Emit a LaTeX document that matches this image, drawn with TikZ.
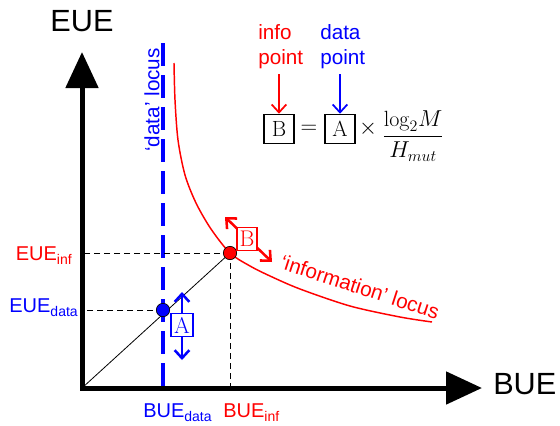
\documentclass[tikz,border=0pt]{standalone}
\usepackage{amsmath}
\usepackage{fontspec}
\setsansfont{Liberation Sans}
\usetikzlibrary{positioning, arrows.meta, calc}

% small lowered index for the sans labels
\newcommand{\lowidx}[1]{\raisebox{-3.5pt}{\fontsize{10.5}{12}\selectfont #1}}

\begin{document}
\begin{tikzpicture}[x=0.75pt, y=-0.75pt,
    lbl/.style={font=\sffamily\fontsize{15.5}{19}\selectfont, inner sep=0pt},
    axlbl/.style={font=\sffamily\fontsize{23}{27}\selectfont, inner sep=0pt},
    ticklbl/.style={font=\sffamily\fontsize{15}{18}\selectfont, inner sep=0pt},
    letterbox/.style={fill=white, inner sep=0pt, line width=0.8pt, font=\fontsize{17}{17}\selectfont, minimum width=16.5pt, minimum height=17pt},
    eqbox/.style={draw=black, line width=0.9pt, inner sep=0pt, font=\fontsize{16.5}{17}\selectfont, minimum width=22.5pt, minimum height=22pt},
    eqtxt/.style={font=\fontsize{16.5}{17}\selectfont, inner sep=0pt},
    dot/.style={circle, draw=black, line width=0.5pt, inner sep=0pt, minimum size=10pt},
    guide/.style={black, dash pattern=on 4.5pt off 3pt, line width=0.6pt},
    chev/.style={{Straight Barb[length=6pt, width=11pt]}-{Straight Barb[length=6pt, width=11pt]}},
    pointer/.style={-{Straight Barb[length=6pt, width=11pt]}, line width=1.3pt}
  ]
  \useasboundingbox (0,0) rectangle (560,425);

  % axes
  \coordinate (O) at (82,388);
  \coordinate (ytip) at (82,52);
  \coordinate (xtip) at (482,388);
  \draw[line width=3.75pt, {Triangle[length=27pt, width=24pt]}-{Triangle[length=27pt, width=24pt]}] (ytip) -- (O) -- (xtip);
  \node[axlbl] (eue) at (82,21) {EUE};
  \node[axlbl, anchor=west] (bue) at (493,384) {BUE};

  % data locus
  \coordinate (dtop) at (163,43);
  \draw[blue, line width=2.3pt, dash pattern=on 17pt off 7pt] (dtop) -- (dtop |- O);
  \node[lbl, blue, rotate=90] (dlocus) at (152,100) {`data' locus};

  % information locus
  \draw[red, line width=1.1pt] plot[smooth] coordinates {(174,63) (175,100) (178,140) (185,175) (196,203) (211,229) (230,253) (250,266) (270,276) (300,289) (350,306) (400,317) (432,322)};
  \node[lbl, red, rotate=-18] (ilocus) at (360,287) {`information' locus};

  % operating points
  \coordinate (inf) at (230,253);
  \coordinate (dat) at (163,310);
  \draw[guide] (inf) -- (inf -| O);
  \draw[guide] (inf) -- (inf |- O);
  \draw[guide] (dat) -- (dat -| O);
  \draw[line width=0.6pt] (O) -- (inf);
  \node[dot, fill=red] (infdot) at (inf) {};
  \node[dot, fill=blue] (datdot) at (dat) {};

  \node[ticklbl, red, anchor=base east] (euei) at (72,260) {EUE\lowidx{inf}};
  \node[ticklbl, blue, anchor=base east] (eued) at (78,312) {EUE\lowidx{data}};
  \node[ticklbl, blue, anchor=base west] (bued) at (143,417) {BUE\lowidx{data}};
  \node[ticklbl, red, anchor=base west] (buei) at (223,417) {BUE\lowidx{inf}};

  % moves
  \coordinate (aup) at (182,292);
  \coordinate (adn) at (182,360);
  \draw[blue, line width=1.9pt, chev] (adn) -- (aup);
  \node[letterbox, draw=blue, text=blue] (boxA) at (182,325) {A};

  \coordinate (bup) at (225,217);
  \coordinate (bdn) at (272,262);
  \draw[red, line width=1.9pt, chev] (bdn) -- (bup);
  \node[letterbox, draw=red, text=red, minimum width=15pt] (boxB) at (247,239) {B};

  % relation
  \node[eqbox] (eqB) at (279,129) {B};
  \node[eqtxt] (eqsign) at (309,129) {$=$};
  \node[eqbox] (eqA) at (340,129) {A};
  \node[eqtxt] (eqtimes) at (368,129) {$\times$};
  \node[eqtxt, anchor=west] (eqfrac) at (382,136) {$\dfrac{\log_2\!M}{H_{mut}}$};

  \node[lbl, red, align=left, anchor=north west] (infolbl) at (258,24) {info\\point};
  \node[lbl, blue, align=left, anchor=north west] (datalbl) at (320,24) {data\\point};
  \draw[red, pointer] ([yshift=-4pt]infolbl.south -| eqB.north) -- (eqB.north);
  \draw[blue, pointer] ([yshift=-4pt]datalbl.south -| eqA.north) -- (eqA.north);
\end{tikzpicture}
\end{document}
